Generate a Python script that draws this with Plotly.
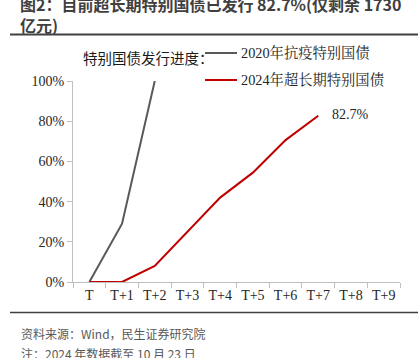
import plotly.graph_objects as go

categories = ["T", "T+1", "T+2", "T+3", "T+4", "T+5", "T+6", "T+7", "T+8", "T+9"]
series_2020_name = "2020年抗疫特别国债"
series_2020 = [0.0, 0.29, 1.0]
series_2024_name = "2024年超长期特别国债"
series_2024 = [0.0, 0.0, 0.08, 0.25, 0.42, 0.544, 0.706, 0.827]
y_ticks = [0, 0.2, 0.4, 0.6, 0.8, 1.0]
y_tick_labels = ["0%", "20%", "40%", "60%", "80%", "100%"]

title_text = "<b>图2：目前超长期特别国债已发行 82.7%(仅剩余 1730<br>亿元)</b>"
inner_title = "特别国债发行进度："
source_text = "资料来源：Wind，民生证券研究院"
note_text = "注：2024 年数据截至 10 月 23 日"

W, H = 418, 358
L, R, T, B = 73, 18, 81, 76
pw, ph = W - L - R, H - T - B

def px(x):
    return (x - L) / pw

def py(y):
    return (H - B - y) / ph

serif = "Liberation Serif, Noto Serif CJK SC, Noto Sans CJK SC, serif"
sans = "Noto Sans CJK SC, Noto Sans, sans-serif"
colors = ["#595959", "#c00000"]

fig = go.Figure()
fig.add_trace(go.Scatter(
    x=categories[:len(series_2020)], y=series_2020, mode="lines",
    name=series_2020_name, line=dict(color=colors[0], width=2),
    cliponaxis=False, showlegend=False))
fig.add_trace(go.Scatter(
    x=categories[:len(series_2024)], y=series_2024, mode="lines",
    name=series_2024_name, line=dict(color=colors[1], width=2),
    cliponaxis=False, showlegend=False))

fig.add_annotation(x=categories[len(series_2024) - 1], y=series_2024[-1],
                   text=f"{series_2024[-1]*100:.1f}%", showarrow=False,
                   xanchor="left", xshift=12, yshift=1,
                   font=dict(family=serif, size=14, color="#262626"))

# manual legend
for i, (name, c) in enumerate([(series_2020_name, colors[0]), (series_2024_name, colors[1])]):
    yy = 53 + 27 * i
    fig.add_shape(type="line", xref="paper", yref="paper", x0=px(205), x1=px(237),
                  y0=py(yy), y1=py(yy), line=dict(color=c, width=2))
    fig.add_annotation(xref="paper", yref="paper", x=px(239), y=py(yy),
                       text=name, showarrow=False, xanchor="left", yanchor="middle",
                       font=dict(family=serif, size=14.3, color="#262626"))

fig.add_annotation(xref="paper", yref="paper", x=px(81), y=py(57),
                   text=inner_title, showarrow=False, xanchor="left", yanchor="middle",
                   font=dict(family=sans, size=14.5, color="#1a1a1a"))

fig.add_annotation(xref="paper", yref="paper", x=px(18), y=py(-10),
                   text=title_text, showarrow=False, xanchor="left", yanchor="top",
                   align="left",
                   font=dict(family=sans, size=16, color="#404040"))

fig.add_annotation(xref="paper", yref="paper", x=px(19), y=py(333),
                   text=source_text, showarrow=False, xanchor="left", yanchor="middle",
                   font=dict(family=sans, size=12, color="#595959"))
fig.add_annotation(xref="paper", yref="paper", x=px(19), y=py(353),
                   text=note_text, showarrow=False, xanchor="left", yanchor="middle",
                   font=dict(family=sans, size=12, color="#595959"))

fig.add_shape(type="line", xref="paper", yref="paper", x0=px(10), x1=px(418),
              y0=py(34.5), y1=py(34.5), line=dict(color="#404040", width=2))
fig.add_shape(type="line", xref="paper", yref="paper", x0=px(10), x1=px(418),
              y0=py(312.5), y1=py(312.5), line=dict(color="#404040", width=1.5))

fig.update_layout(
    width=W, height=H,
    margin=dict(l=L, r=R, t=T, b=B, autoexpand=False),
    paper_bgcolor="white", plot_bgcolor="white",
    showlegend=False,
    xaxis=dict(type="category", categoryorder="array", categoryarray=categories,
               range=[-0.5, len(categories) - 0.5],
               showline=True, linecolor="#bfbfbf", linewidth=1,
               ticks="outside", tickson="boundaries", ticklen=5, tickcolor="#bfbfbf",
               showgrid=False, zeroline=False,
               tickfont=dict(family=serif, size=14, color="#262626")),
    yaxis=dict(range=[0, 1], tickvals=y_ticks, ticktext=y_tick_labels,
               showline=True, linecolor="#bfbfbf", linewidth=1,
               ticks="outside", ticklen=5, tickcolor="#bfbfbf",
               showgrid=False, zeroline=False,
               tickfont=dict(family=serif, size=14, color="#262626")),
)

fig.write_html("out.html", config={"displayModeBar": False},
               post_script="document.body.style.margin='0';")
